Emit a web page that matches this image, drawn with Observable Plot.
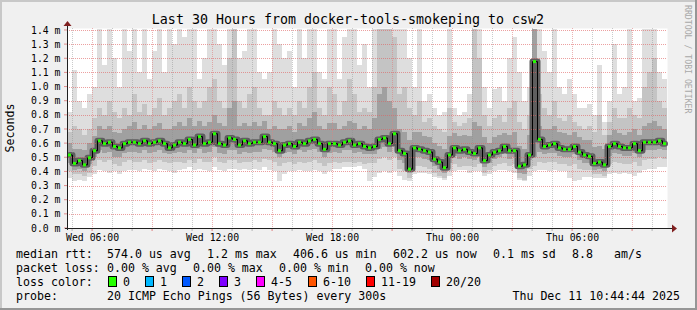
<!DOCTYPE html>
<html><head><meta charset="utf-8">
<script src="https://cdn.jsdelivr.net/npm/d3@7"></script>
<script src="https://cdn.jsdelivr.net/npm/@observablehq/plot@0.6"></script>
<style>
html,body{margin:0;padding:0;background:#f0f0f0;}
#chart{width:697px;height:310px;position:relative;overflow:hidden;}
svg{display:block;}
</style></head><body><div id="chart"></div>
<script>
// ---- data (values in milliseconds, one sample every 15 minutes) ----
const START = "2025-12-10T04:44:44Z";
const END = "2025-12-11T10:44:44Z";
const STEP_MINUTES = 15;

const median = [
0.52,0.46,0.48,0.45,0.50,0.55,0.62,0.60,0.61,0.58,0.57,0.60,0.61,0.61,0.60,0.62,0.60,0.61,0.62,0.60,
0.57,0.59,0.61,0.60,0.63,0.59,0.65,0.60,0.61,0.67,0.60,0.59,0.64,0.63,0.59,0.62,0.60,0.61,0.61,0.65,
0.61,0.60,0.55,0.59,0.60,0.58,0.61,0.60,0.62,0.63,0.60,0.56,0.60,0.60,0.59,0.61,0.62,0.59,0.60,0.58,
0.57,0.58,0.63,0.64,0.60,0.67,0.55,0.53,0.42,0.57,0.56,0.55,0.54,0.49,0.47,0.43,0.52,0.57,0.55,0.56,
0.54,0.53,0.57,0.48,0.52,0.54,0.55,0.58,0.55,0.55,0.44,0.45,0.52,1.18,0.63,0.58,0.59,0.60,0.57,0.56,
0.56,0.58,0.54,0.52,0.51,0.46,0.47,0.45,0.58,0.60,0.58,0.57,0.57,0.60,0.55,0.61,0.61,0.61,0.62,0.60];

const hi0 = [
0.82,1.12,0.90,0.85,0.95,1.00,1.41,1.15,1.41,1.20,1.00,1.41,1.25,1.41,1.10,1.41,1.05,1.25,1.41,1.10,
1.41,1.30,1.41,1.35,1.41,1.41,1.05,1.20,1.41,1.41,1.30,1.15,1.41,1.41,1.20,1.25,1.41,1.41,1.10,1.05,
1.10,1.41,1.30,1.20,1.25,1.00,1.41,1.20,1.41,1.41,1.10,1.05,1.41,1.41,1.05,1.35,1.41,1.41,1.15,1.30,
1.00,1.41,1.41,1.41,1.41,1.41,1.41,1.41,1.20,1.00,1.41,0.90,0.95,0.85,0.80,0.82,1.41,0.85,0.80,0.82,
0.95,1.41,1.41,1.00,0.85,0.98,1.00,0.90,1.20,1.35,1.10,0.90,1.00,1.41,1.41,1.25,1.10,1.41,1.00,0.95,
1.05,0.95,0.85,0.85,0.88,0.80,1.15,0.75,0.90,1.30,0.95,1.00,1.41,0.90,0.92,1.41,1.41,1.41,1.10,1.05];

const hi1 = [
0.68,0.72,0.70,0.66,0.70,0.78,0.85,0.80,0.90,0.82,0.78,0.85,0.80,0.95,0.82,0.88,0.80,0.85,0.92,0.80,
0.85,0.90,0.95,0.85,1.00,0.90,0.85,0.90,1.00,1.05,0.90,0.85,1.20,1.41,0.90,0.85,0.95,1.00,0.85,0.80,
0.80,0.90,0.85,0.80,0.85,0.80,0.90,0.85,1.00,1.10,0.85,0.80,1.00,0.95,0.80,0.90,1.05,0.95,0.82,0.85,
0.82,1.00,1.41,1.41,1.41,1.35,0.95,1.00,0.85,0.80,0.90,0.75,0.78,0.72,0.70,0.68,0.85,0.75,0.72,0.74,
0.78,1.41,1.20,0.80,0.72,0.78,0.80,0.75,0.85,0.90,0.75,0.70,0.80,1.41,0.95,0.85,0.80,0.90,0.78,0.76,
0.80,0.75,0.72,0.70,0.72,0.68,0.80,0.66,0.75,0.85,0.78,0.78,0.85,0.80,0.78,1.00,1.10,1.20,0.90,0.85];

const hi2 = [
0.60,0.56,0.56,0.55,0.60,0.65,0.72,0.70,0.72,0.68,0.67,0.70,0.72,0.75,0.70,0.73,0.70,0.72,0.74,0.70,
0.70,0.72,0.75,0.72,0.78,0.72,0.76,0.72,0.75,0.80,0.74,0.72,0.85,0.90,0.72,0.74,0.72,0.75,0.72,0.76,
0.70,0.72,0.70,0.70,0.72,0.68,0.74,0.72,0.78,0.82,0.72,0.70,0.74,0.74,0.70,0.72,0.76,0.74,0.70,0.72,
0.70,0.78,0.95,1.00,0.90,0.85,0.70,0.68,0.62,0.68,0.68,0.65,0.64,0.60,0.58,0.56,0.65,0.67,0.65,0.66,
0.65,0.75,0.72,0.64,0.60,0.64,0.66,0.67,0.66,0.68,0.58,0.56,0.66,1.41,0.72,0.70,0.70,0.72,0.68,0.67,
0.66,0.68,0.64,0.62,0.62,0.57,0.58,0.56,0.66,0.69,0.67,0.66,0.68,0.70,0.66,0.72,0.74,0.76,0.72,0.70];

const lo2 = [
0.46,0.41,0.42,0.40,0.45,0.50,0.55,0.53,0.54,0.50,0.50,0.53,0.54,0.54,0.53,0.55,0.53,0.54,0.55,0.53,
0.52,0.53,0.54,0.53,0.55,0.53,0.56,0.53,0.54,0.57,0.53,0.52,0.55,0.55,0.52,0.54,0.53,0.54,0.54,0.56,
0.55,0.54,0.50,0.53,0.54,0.52,0.55,0.54,0.55,0.56,0.54,0.50,0.53,0.54,0.53,0.55,0.55,0.53,0.54,0.52,
0.52,0.52,0.56,0.57,0.54,0.58,0.48,0.46,0.39,0.50,0.50,0.49,0.48,0.44,0.42,0.39,0.46,0.51,0.49,0.50,
0.49,0.48,0.50,0.43,0.46,0.49,0.50,0.52,0.49,0.50,0.39,0.38,0.48,0.50,0.54,0.52,0.53,0.53,0.51,0.50,
0.50,0.52,0.48,0.46,0.46,0.41,0.42,0.40,0.51,0.53,0.52,0.51,0.51,0.53,0.50,0.55,0.55,0.55,0.56,0.55];

const lo1 = [
0.40,0.38,0.38,0.37,0.39,0.44,0.48,0.47,0.48,0.45,0.44,0.47,0.48,0.47,0.47,0.48,0.46,0.47,0.48,0.47,
0.46,0.47,0.47,0.46,0.48,0.46,0.49,0.47,0.47,0.50,0.47,0.46,0.48,0.48,0.46,0.47,0.47,0.48,0.47,0.49,
0.48,0.47,0.44,0.46,0.47,0.45,0.47,0.46,0.47,0.48,0.46,0.44,0.46,0.47,0.46,0.47,0.47,0.46,0.47,0.45,
0.46,0.46,0.49,0.50,0.48,0.50,0.42,0.40,0.35,0.44,0.44,0.43,0.42,0.39,0.37,0.35,0.40,0.45,0.43,0.44,
0.44,0.43,0.45,0.39,0.41,0.44,0.45,0.46,0.44,0.45,0.35,0.34,0.42,0.44,0.47,0.46,0.47,0.47,0.45,0.45,
0.44,0.45,0.42,0.41,0.41,0.38,0.38,0.37,0.45,0.47,0.46,0.45,0.45,0.47,0.44,0.48,0.49,0.49,0.50,0.49];

const lo0 = [
0.35,0.33,0.34,0.33,0.36,0.38,0.41,0.40,0.39,0.40,0.38,0.40,0.41,0.41,0.40,0.42,0.41,0.40,0.42,0.41,
0.40,0.39,0.41,0.42,0.43,0.41,0.42,0.41,0.40,0.43,0.41,0.40,0.42,0.42,0.41,0.42,0.41,0.42,0.41,0.43,
0.41,0.40,0.33,0.38,0.40,0.40,0.41,0.40,0.40,0.41,0.40,0.38,0.40,0.42,0.42,0.43,0.43,0.43,0.44,0.42,
0.33,0.36,0.39,0.40,0.39,0.40,0.37,0.34,0.33,0.38,0.39,0.39,0.38,0.36,0.35,0.34,0.37,0.40,0.41,0.41,
0.39,0.40,0.40,0.37,0.38,0.40,0.41,0.41,0.40,0.39,0.34,0.33,0.37,0.40,0.41,0.41,0.40,0.41,0.40,0.40,
0.35,0.33,0.34,0.36,0.36,0.35,0.35,0.35,0.38,0.39,0.38,0.39,0.38,0.37,0.39,0.41,0.42,0.42,0.43,0.43];

const yTicks = [0.0,0.1,0.2,0.3,0.4,0.5,0.6,0.7,0.8,0.9,1.0,1.1,1.2,1.3,1.4];
const xTickTimes = ["2025-12-10T06:00:00Z","2025-12-10T12:00:00Z","2025-12-10T18:00:00Z","2025-12-11T00:00:00Z","2025-12-11T06:00:00Z"];

const titleText = "Last 30 Hours from docker-tools-smokeping to csw2";
const yLabel = "Seconds";
const watermark = "RRDTOOL / TOBI OETIKER";
const rttRow = ["median rtt:","574.0 us avg","1.2 ms max","406.6 us min","602.2 us now","0.1 ms sd","8.8","am/s"];
const lossRow = ["packet loss:","0.00 % avg","0.00 % max","0.00 % min","0.00 % now"];
const lossLabels = ["0","1","2","3","4-5","6-10","11-19","20/20"];
const lossColors = ["#26ff00","#00b8ff","#0059ff","#7e00ff","#ff00ff","#ff5500","#ff0000","#a10000"];
const probeRow = ["probe:","20 ICMP Echo Pings (56 Bytes) every 300s","Thu Dec 11 10:44:44 2025"];

// ---- build table ----
const t0 = new Date(START), tEnd = new Date(END);
const STEP = STEP_MINUTES * 60000;
const rows = median.map((m, i) => ({
  a: new Date(+t0 + i * STEP),
  b: new Date(+t0 + (i + 1) * STEP),
  c: new Date(+t0 + (i + 0.5) * STEP),
  ga: new Date(+t0 + i * STEP + 3 * 60000),
  gb: new Date(+t0 + i * STEP + 12 * 60000),
  median: m, lo0: lo0[i], lo1: lo1[i], lo2: lo2[i], hi2: hi2[i], hi1: hi1[i], hi0: hi0[i]
}));
const hours = d3.utcHour.every(1).range(t0, tEnd).filter(d => d.getUTCHours() % 3 !== 0);
const threeHours = d3.utcHour.every(3).range(t0, tEnd);
const xTicks = xTickTimes.map(s => new Date(s));
const mono = "'DejaVu Sans Mono', monospace";

const plot = Plot.plot({
  width: 697, height: 310,
  marginLeft: 67, marginRight: 30, marginTop: 28, marginBottom: 82,
  style: {background: "transparent", fontFamily: mono, fontSize: "9.8px", color: "#000", overflow: "visible"},
  x: {type: "utc", domain: [t0, tEnd]},
  y: {domain: [0, 1.414]},
  marks: [
    Plot.frame({fill: "#ffffff", stroke: null}),
    Plot.rect(rows, {x1: "a", x2: "b", y1: "lo0", y2: "hi0", fill: "#dedede", shapeRendering: "crispEdges"}),
    Plot.rect(rows, {x1: "a", x2: "b", y1: "lo1", y2: "hi1", fill: "#c4c4c4", shapeRendering: "crispEdges"}),
    Plot.rect(rows, {x1: "a", x2: "b", y1: "lo2", y2: "hi2", fill: "#a0a0a0", shapeRendering: "crispEdges"}),
    Plot.lineY(rows, {x: "c", y: "median", curve: "step", stroke: "#5e5e5e", strokeWidth: 6}),
    Plot.ruleX(hours, {stroke: "#8c8c8c", strokeOpacity: 0.45, strokeDasharray: "1,1", shapeRendering: "crispEdges"}),
    Plot.ruleX(threeHours, {stroke: "#e08080", strokeOpacity: 0.6, strokeDasharray: "1,1", shapeRendering: "crispEdges"}),
    Plot.ruleY(yTicks.filter(d => d > 0), {stroke: "#e06060", strokeOpacity: 0.6, strokeDasharray: "1,1", shapeRendering: "crispEdges"}),
    Plot.lineY(rows, {x: "c", y: "median", curve: "step", stroke: "#000000", strokeWidth: 1}),
    Plot.ruleY(rows, {x1: "ga", x2: "gb", y: "median", stroke: lossColors[0], strokeWidth: 3}),
    Plot.axisY({ticks: yTicks, tickFormat: d => d.toFixed(1) + " m", tickSize: 0, tickPadding: 7, label: null, fill: "#000", fontSize: 9.8}),
    Plot.axisX({ticks: xTicks, tickFormat: d3.utcFormat("%a %H:%M"), tickSize: 0, tickPadding: 6, label: null, fill: "#000", fontSize: 9.8})
  ]
});
document.getElementById("chart").appendChild(plot);

// ---- decorations (axes, arrows, titles, legend) ----
const sx = plot.scale("x"), sy = plot.scale("y");
const svg = d3.select(plot);
const X0 = sx.apply(t0), X1 = sx.apply(tEnd), Y0 = sy.apply(0), YT = sy.apply(1.414);
const deco = svg.append("g");
hours.forEach(d => deco.append("line").attr("x1", sx.apply(d)).attr("x2", sx.apply(d)).attr("y1", Y0).attr("y2", Y0 + 3).attr("stroke", "#8c8c8c").attr("stroke-opacity", 0.6));
threeHours.forEach(d => deco.append("line").attr("x1", sx.apply(d)).attr("x2", sx.apply(d)).attr("y1", Y0).attr("y2", Y0 + 3).attr("stroke", "#d95050").attr("stroke-opacity", 0.7));
yTicks.forEach(v => deco.append("line").attr("x1", X0 - 3).attr("x2", X0).attr("y1", sy.apply(v)).attr("y2", sy.apply(v)).attr("stroke", "#d95050").attr("stroke-opacity", 0.6));
deco.append("line").attr("x1", X0 - 2).attr("x2", X1 + 5).attr("y1", Y0 + 0.5).attr("y2", Y0 + 0.5).attr("stroke", "#202020");
deco.append("line").attr("x1", X0 + 0.5).attr("x2", X0 + 0.5).attr("y1", Y0 + 2).attr("y2", YT - 4).attr("stroke", "#202020");
deco.append("path").attr("d", `M${X1 + 5},${Y0 - 3.5}L${X1 + 10},${Y0 + 0.5}L${X1 + 5},${Y0 + 4.5}Z`).attr("fill", "#802020");
deco.append("path").attr("d", `M${X0 - 3.5},${YT - 2}L${X0 + 0.5},${YT - 7}L${X0 + 4.5},${YT - 2}Z`).attr("fill", "#802020");

const txt = deco.append("g").attr("font-family", mono).attr("fill", "#000");
function put(x, y, s, size, anchor) {
  return txt.append("text").attr("x", x).attr("y", y).attr("font-size", size)
    .attr("text-anchor", anchor || "start").attr("dominant-baseline", "central")
    .style("white-space", "pre").text(s);
}
put(348, 19.5, titleText, 13.3, "middle");
put(0, 0, yLabel, 11.6, "middle").attr("transform", "translate(10,128) rotate(-90)");
put(0, 0, watermark, 8.2, "start").attr("fill", "#a8a8a8").attr("transform", "translate(688,5) rotate(90)");

const rttX = [16, 107, 207, 293, 393, 493, 572, 614];
rttRow.forEach((s, i) => put(rttX[i], 254.3, s, 11.6));
const lossX = [16, 107, 193, 279, 365];
lossRow.forEach((s, i) => put(lossX[i], 268.3, s, 11.6));
put(16, 282.3, "loss color:", 11.6);
const boxX = [108, 145, 182, 219, 256, 308, 366, 431];
lossLabels.forEach((s, i) => {
  txt.append("rect").attr("x", boxX[i] + 0.5).attr("y", 276.5).attr("width", 8).attr("height", 10)
    .attr("fill", lossColors[i]).attr("stroke", "#000").attr("stroke-width", 1);
  put(boxX[i] + 15, 282.3, s, 11.6);
});
put(16, 296.3, probeRow[0], 11.6);
put(107, 296.3, probeRow[1], 11.6);
put(680, 296.3, probeRow[2], 11.6, "end");

deco.append("rect").attr("x", 0).attr("y", 0).attr("width", 697).attr("height", 2).attr("fill", "#c8c8c8");
deco.append("rect").attr("x", 0).attr("y", 0).attr("width", 2).attr("height", 310).attr("fill", "#c8c8c8");
deco.append("rect").attr("x", 0).attr("y", 308).attr("width", 697).attr("height", 2).attr("fill", "#969696");
deco.append("rect").attr("x", 695).attr("y", 0).attr("width", 2).attr("height", 310).attr("fill", "#969696");
</script></body></html>
